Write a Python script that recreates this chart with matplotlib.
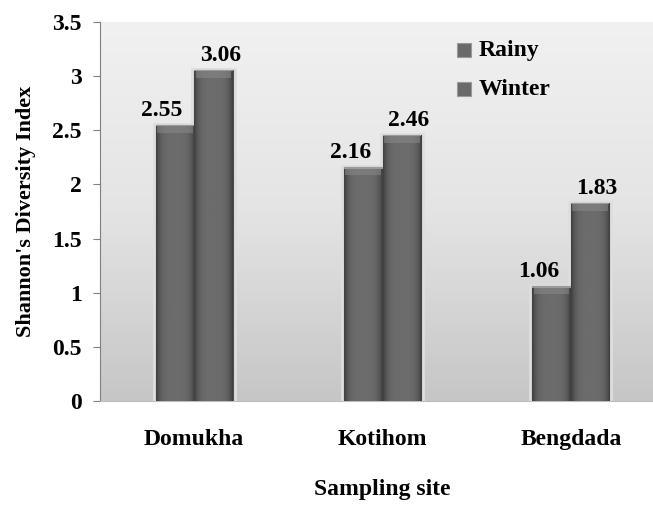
import numpy as np
import matplotlib.pyplot as plt
from matplotlib.colors import LinearSegmentedColormap

# === DATOS ===
sites = ['Domukha', 'Kotihom', 'Bengdada']
rainy = [2.55, 2.16, 1.06]
winter = [3.06, 2.46, 1.83]
series_names = ['Rainy', 'Winter']
y_ticks = [0, 0.5, 1, 1.5, 2, 2.5, 3, 3.5]
y_tick_labels = ['0', '0.5', '1', '1.5', '2', '2.5', '3', '3.5']

plt.rcParams.update({
    "font.family": "serif",
    "font.serif": ["Liberation Serif", "DejaVu Serif"],
    "font.weight": "bold",
})

fig = plt.figure(figsize=(6.53, 5.09), dpi=100)
ax = fig.add_axes([100/653, 1 - 401/509, 565/653, 379/509])

x = np.arange(len(sites))
w = 0.205

# fondo degradado (oscuro abajo, claro arriba)
bg = np.linspace(0, 1, 256).reshape(-1, 1)
bg_cmap = LinearSegmentedColormap.from_list('bg', ['#c6c6c6', '#e4e4e4', '#f1f1f1'])
ax.imshow(bg, cmap=bg_cmap, aspect='auto', extent=[-0.5, 2.5, 0, 3.5],
          origin='lower', zorder=0, interpolation='bicubic')

# degradado de cada barra (bordes oscuros, centro claro)
gx = np.linspace(-1, 1, 60)
shade = 1 - 0.35 * np.abs(gx) ** 4
bar_img = np.tile(shade, (200, 1))
bar_cmap = LinearSegmentedColormap.from_list('bar', ['#3f3f3f', '#6c6c6c'])


def draw_bars(xs, vals, dx):
    for xi, v in zip(xs, vals):
        ax.bar(xi + dx, v + 0.01, w + 0.02, color='none',
               edgecolor='#dedede', linewidth=2, zorder=2)
        b = ax.bar(xi + dx, v, w, color='#666666', edgecolor='#505050',
                   linewidth=0.8, zorder=3)[0]
        im = ax.imshow(bar_img, cmap=bar_cmap, vmin=0.65, vmax=1.0,
                       extent=[xi + dx - w/2, xi + dx + w/2, 0, v],
                       aspect='auto', zorder=3.5)
        im.set_clip_path(b)
        # bisel superior
        ax.bar(xi + dx, 0.06, w * 0.92, bottom=v - 0.075,
               color='#8a8a8a', alpha=0.55, linewidth=0, zorder=4)
        ax.bar(xi + dx, 0.015, w, bottom=v - 0.015, color='#9a9a9a',
               linewidth=0, zorder=4)


draw_bars(x, rainy, -w/2)
draw_bars(x, winter, w/2)

# etiquetas de valores
for xi, v in zip(x, rainy):
    ax.annotate(f'{v:.2f}', (xi - w/2, v), xytext=(-13, 4), textcoords='offset pixels',
                ha='center', va='bottom', fontsize=17, fontweight='bold', zorder=6)
for xi, v in zip(x, winter):
    ax.annotate(f'{v:.2f}', (xi + w/2, v), xytext=(7, 4), textcoords='offset pixels',
                ha='center', va='bottom', fontsize=17, fontweight='bold', zorder=6)

# leyenda
h1 = ax.scatter([], [], marker='s', s=95, color='#6a6a6a', edgecolor='#9a9a9a', linewidth=0.8)
h2 = ax.scatter([], [], marker='s', s=95, color='#6a6a6a', edgecolor='#9a9a9a', linewidth=0.8)
leg = ax.legend([h1, h2], series_names, loc='upper left', bbox_to_anchor=(0.585, 1.01),
                frameon=False, prop={'size': 17, 'weight': 'bold'},
                handletextpad=0.15, labelspacing=0.75, handlelength=1.0)

ax.set_xlim(-0.5, 2.5)
ax.set_ylim(0, 3.5)
ax.set_yticks(y_ticks)
ax.set_yticklabels(y_tick_labels, fontsize=17, fontweight='bold')
ax.set_xticks(x)
ax.set_xticklabels(sites, fontsize=17, fontweight='bold')
ax.tick_params(axis='x', length=0, pad=20)
ax.tick_params(axis='y', length=5, color='#808080', direction='out', pad=8)

for s in ['top', 'right']:
    ax.spines[s].set_visible(False)
ax.spines['left'].set_color('#808080')
ax.spines['bottom'].set_color('#bdbdbd')

ax.set_ylabel("Shannon's Diversity Index", fontsize=16, fontweight='bold', labelpad=12)
ax.set_xlabel('Sampling site', fontsize=17, fontweight='bold', labelpad=21)

fig.savefig('out.png', dpi=100)
